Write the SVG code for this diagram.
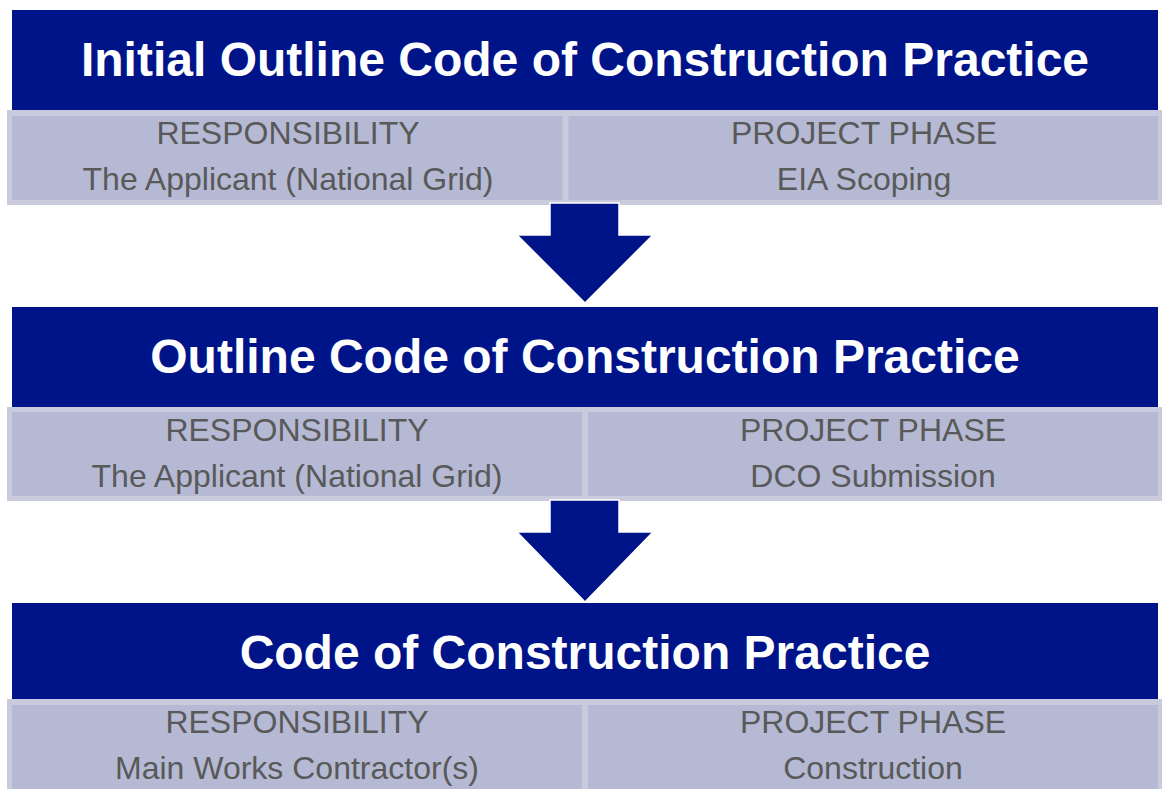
<svg xmlns="http://www.w3.org/2000/svg" width="1162" height="789" viewBox="0 0 1162 789">
  <style>
    .hdr { fill: #001489; }
    .title { font-family: "Liberation Sans", Arial, sans-serif; font-weight: bold; font-size: 48px; fill: #ffffff; text-anchor: middle; }
    .band { fill: #c9cbdc; }
    .cell { fill: #b5b9d3; }
    .lbl { font-family: "Liberation Sans", Arial, sans-serif; font-size: 32px; fill: #595959; text-anchor: middle; }
    .arrow { fill: #001489; stroke: #ffffff; stroke-width: 1.5; stroke-linejoin: miter; }
  </style>

  <!-- Stage 1 -->
  <g id="stage-initial-outline">
    <rect class="hdr" x="12" y="10" width="1146" height="100"/>
    <text class="title" x="585" y="76">Initial Outline Code of Construction Practice</text>
    <rect class="band" x="7" y="110" width="1155" height="95"/>
    <rect class="cell" x="12" y="116" width="550.5" height="84"/>
    <rect class="cell" x="568.5" y="116" width="589.5" height="84"/>
    <text class="lbl" x="288" y="144">RESPONSIBILITY</text>
    <text class="lbl" x="288" y="190">The Applicant (National Grid)</text>
    <text class="lbl" x="864" y="144">PROJECT PHASE</text>
    <text class="lbl" x="864" y="190">EIA Scoping</text>
  </g>

  <!-- Stage 2 -->
  <g id="stage-outline">
    <rect class="hdr" x="12" y="307" width="1146" height="100"/>
    <text class="title" x="585" y="373">Outline Code of Construction Practice</text>
    <rect class="band" x="7" y="407" width="1155" height="94"/>
    <rect class="cell" x="12" y="412" width="570" height="84"/>
    <rect class="cell" x="588" y="412" width="570" height="84"/>
    <text class="lbl" x="297" y="441">RESPONSIBILITY</text>
    <text class="lbl" x="297" y="487">The Applicant (National Grid)</text>
    <text class="lbl" x="873" y="441">PROJECT PHASE</text>
    <text class="lbl" x="873" y="487">DCO Submission</text>
  </g>

  <!-- Stage 3 -->
  <g id="stage-final">
    <rect class="hdr" x="12" y="603" width="1146" height="96"/>
    <text class="title" x="585" y="669">Code of Construction Practice</text>
    <rect class="band" x="7" y="699" width="1155" height="95"/>
    <rect class="cell" x="12" y="705" width="570" height="90"/>
    <rect class="cell" x="588" y="705" width="570" height="90"/>
    <text class="lbl" x="297" y="733">RESPONSIBILITY</text>
    <text class="lbl" x="297" y="779">Main Works Contractor(s)</text>
    <text class="lbl" x="873" y="733">PROJECT PHASE</text>
    <text class="lbl" x="873" y="779">Construction</text>
  </g>

  <!-- Block arrows between stages -->
  <g id="connectors">
    <path class="arrow" d="M550,203 H619 V235 H653 L585,303 L517,235 H550 Z"/>
    <path class="arrow" d="M550,500 H619 V532 H653 L585,602 L517,532 H550 Z"/>
  </g>
</svg>
